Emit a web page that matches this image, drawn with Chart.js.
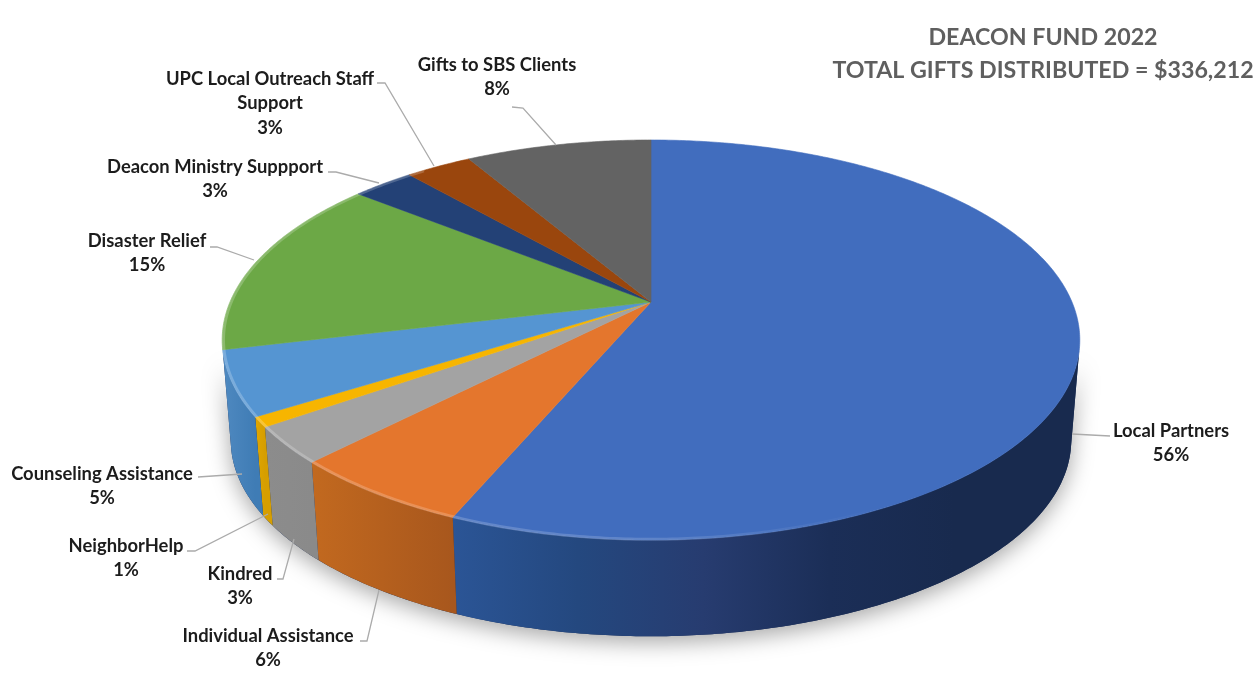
<!DOCTYPE html>
<html>
<head>
<meta charset="utf-8">
<title>Deacon Fund 2022</title>
<script src="https://cdn.jsdelivr.net/npm/chart.js@4"></script>
<style>
  html, body { margin: 0; padding: 0; background: #fff; }
  canvas { display: block; }
</style>
</head>
<body>
<canvas id="pie" width="1259" height="689"></canvas>
<script>
// Slices, clockwise from 12 o'clock
const categories = [
    'Local Partners',
    'Individual Assistance',
    'Kindred',
    'NeighborHelp',
    'Counseling Assistance',
    'Disaster Relief',
    'Deacon Ministry Suppport',
    ['UPC Local Outreach Staff', 'Support'],
    'Gifts to SBS Clients'
];
// Shares, the labels show them rounded
const shares = [56.35, 5.9, 2.95, 0.8, 5.2, 14.6, 2.8, 3, 8.4];
const titleLines = ['DEACON FUND 2022', 'TOTAL GIFTS DISTRIBUTED = $336,212'];

const topColors = ['#416DBE', '#E4762D', '#A3A3A3', '#F7B500', '#5595D2', '#6CA846', '#234176', '#9A460D', '#636363'];
const wallColors = [
    ['#2B5596', '#24487F', '#273C70', '#1B2E57', '#182A4E', '#182A4E'],
    ['#C2691F', '#A8571D'],
    ['#8C8C8C', '#8A8A8A'],
    ['#E0A600', '#D69E00'],
    ['#4F89C0', '#3F7CB5'],
    ['#5A8A38', '#5A8A38'],
    ['#1C3360', '#1C3360'],
    ['#7B380A', '#7B380A'],
    ['#4F4F4F', '#4F4F4F']
];

// Where the labels sit: x centre, y of first line, then the leader polyline
const labelSpots = [
    { x: 1171, y: 431, leader: [[1072, 434], [1110, 436]] },
    { x: 268, y: 636, leader: [[360, 641], [367, 641], [379, 590]] },
    { x: 240, y: 574, leader: [[277, 579], [283, 579], [294, 539]] },
    { x: 126, y: 546, leader: [[187, 551], [195, 551], [268, 514]] },
    { x: 102, y: 474, leader: [[198, 477], [242, 474]] },
    { x: 147, y: 241, leader: [[210, 247], [217, 247], [254, 260]] },
    { x: 215, y: 167, leader: [[328, 172], [336, 172], [379, 183]] },
    { x: 270, y: 79, leader: [[377, 83], [385, 83], [434, 166]] },
    { x: 497, y: 65, leader: [[512, 107], [523, 108], [556, 145]] }
];

// Perspective of the tilted disc
const view = { cx: 651, cy: 302, rx: 421, ry: 192.8, tilt: 0.19, depth: 101, bottomScale: 0.98 };
// Walls only show on the part of the rim that faces the viewer
const frontFrom = Math.asin(0.24);
const frontTo = Math.PI - frontFrom;
const bevelTo = Math.PI + 0.9;

function project(angle, scale, drop) {
    const den = 1 - view.tilt * Math.sin(angle);
    return {
        x: view.cx + scale * view.rx * Math.cos(angle) / den,
        y: view.cy + drop + scale * view.ry * Math.sin(angle) / den
    };
}

function traceRim(ctx, from, to, scale, drop, first) {
    const steps = Math.max(2, Math.ceil(Math.abs(to - from) / 0.01));
    for (let i = 0; i <= steps; i++) {
        const p = project(from + (to - from) * i / steps, scale, drop);
        if (i === 0 && first) ctx.moveTo(p.x, p.y);
        else ctx.lineTo(p.x, p.y);
    }
}

function wallFill(ctx, stops, x0, x1) {
    const g = ctx.createLinearGradient(x0, 0, x1, 0);
    stops.forEach((c, i) => g.addColorStop(i / (stops.length - 1), c));
    return g;
}

// The library works out the slice angles, this plugin paints them tilted
const tiltedPie = {
    id: 'tiltedPie',
    beforeDatasetsDraw(chart) {
        const ctx = chart.ctx;
        const arcs = chart.getDatasetMeta(0).data;

        // soft shadow under the disc
        ctx.save();
        ctx.shadowColor = 'rgba(0,0,0,0.35)';
        ctx.shadowBlur = 22;
        ctx.shadowOffsetY = 6;
        ctx.fillStyle = '#1B2E57';
        ctx.beginPath();
        traceRim(ctx, frontFrom, frontTo, view.bottomScale, view.depth, true);
        traceRim(ctx, frontTo, frontFrom, 1, 0, false);
        ctx.closePath();
        ctx.fill();
        ctx.restore();

        // side walls
        arcs.forEach((arc, i) => {
            const a0 = Math.max(arc.startAngle, frontFrom);
            const a1 = Math.min(arc.endAngle, frontTo);
            if (a1 <= a0) return;
            const xs = [];
            for (let t = 0; t <= 40; t++) xs.push(project(a0 + (a1 - a0) * t / 40, 1, 0).x);
            ctx.fillStyle = wallFill(ctx, wallColors[i], Math.min(...xs), i === 0 ? 1080 : Math.max(...xs));
            ctx.beginPath();
            traceRim(ctx, a0, a1, 1, 0, true);
            traceRim(ctx, a1, a0, view.bottomScale, view.depth, false);
            ctx.closePath();
            ctx.fill();
        });

        // top faces
        arcs.forEach((arc, i) => {
            ctx.fillStyle = topColors[i];
            ctx.strokeStyle = topColors[i];
            ctx.lineWidth = 0.6;
            ctx.beginPath();
            ctx.moveTo(view.cx, view.cy);
            traceRim(ctx, arc.startAngle, arc.endAngle, 1, 0, false);
            ctx.closePath();
            ctx.fill();
            ctx.stroke();
        });

        // light bevel on the front edge
        const shine = ctx.createLinearGradient(220, 0, 880, 0);
        shine.addColorStop(0, 'rgba(255,255,255,0.22)');
        shine.addColorStop(0.65, 'rgba(255,255,255,0.16)');
        shine.addColorStop(1, 'rgba(255,255,255,0)');
        ctx.strokeStyle = shine;
        ctx.lineWidth = 3;
        arcs.forEach(arc => {
            const a0 = Math.max(arc.startAngle, frontFrom);
            const a1 = Math.min(arc.endAngle, bevelTo);
            if (a1 <= a0) return;
            ctx.beginPath();
            traceRim(ctx, a0, a1, 0.997, 0, true);
            ctx.stroke();
        });
        return false;
    },
    afterDraw(chart) {
        const ctx = chart.ctx;
        ctx.save();
        ctx.textAlign = 'center';
        ctx.textBaseline = 'middle';

        ctx.fillStyle = '#5F5F5F';
        ctx.font = 'bold 23.2px Lato';
        ctx.fillText(titleLines[0], 1043, 38);
        ctx.fillText(titleLines[1], 1043, 71);

        categories.forEach((cat, i) => {
            const spot = labelSpots[i];
            ctx.strokeStyle = '#ABABAB';
            ctx.lineWidth = 1.3;
            ctx.beginPath();
            spot.leader.forEach((p, n) => n ? ctx.lineTo(p[0], p[1]) : ctx.moveTo(p[0], p[1]));
            ctx.stroke();

            ctx.fillStyle = '#1C1C1C';
            ctx.font = 'bold 18.4px Lato';
            const lines = [].concat(cat, Math.round(shares[i]) + '%');
            lines.forEach((line, n) => ctx.fillText(line, spot.x, spot.y + n * 24.5));
        });
        ctx.restore();
    }
};

new Chart(document.getElementById('pie'), {
    type: 'pie',
    data: {
        labels: categories,
        datasets: [{ data: shares, backgroundColor: topColors, borderWidth: 0 }]
    },
    options: {
        responsive: false,
        animation: false,
        events: [],
        plugins: { legend: { display: false }, tooltip: { enabled: false } }
    },
    plugins: [tiltedPie]
});
</script>
</body>
</html>
